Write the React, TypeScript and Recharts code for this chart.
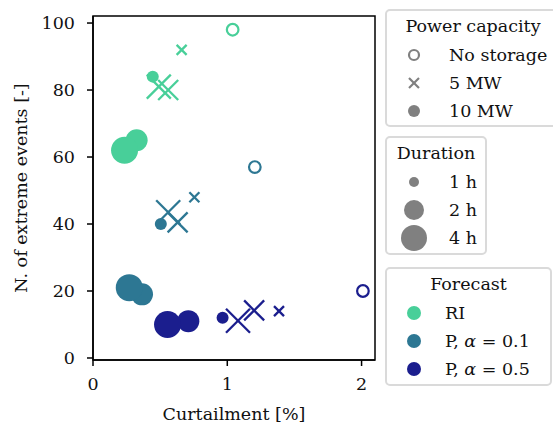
import React from 'react'
import {
  ScatterChart,
  Scatter,
  XAxis,
  YAxis,
  ReferenceArea,
  Label,
} from 'recharts'

// storage cases, same order for every forecast
const powerCapacity = ['none', '5 MW', '10 MW', '5 MW', '10 MW', '5 MW', '10 MW']
const durationHours = [0, 1, 1, 2, 2, 4, 4]

const curtailmentRI = [1.04, 0.66, 0.445, 0.56, 0.325, 0.49, 0.235]
const eventsRI = [98, 92, 84, 80, 65, 81, 62]

const curtailmentP01 = [1.205, 0.755, 0.505, 0.63, 0.365, 0.56, 0.27]
const eventsP01 = [57, 48, 40, 40.5, 19, 43.5, 21]

const curtailmentP05 = [2.01, 1.385, 0.965, 1.2, 0.71, 1.08, 0.555]
const eventsP05 = [20, 14, 12, 14.2, 11, 11.1, 10]

const xTicks = [0, 1, 2]
const yTicks = [0, 20, 40, 60, 80, 100]

const forecasts = [
  { name: 'RI', color: '#48cf99', x: curtailmentRI, y: eventsRI },
  { name: 'P, α = 0.1', color: '#2d7793', x: curtailmentP01, y: eventsP01 },
  { name: 'P, α = 0.5', color: '#1b1e8e', x: curtailmentP05, y: eventsP05 },
]

const FONT = '"DejaVu Serif", serif'
const FS = 17.5
const GREY = '#808080'

const crossHalf: Record<number, number> = { 1: 5, 2: 10, 4: 12 }
const dotRadius: Record<number, number> = { 1: 6, 2: 11, 4: 13.5 }

function Marker(props: any) {
  const { cx, cy, payload, fill } = props
  if (cx == null || cy == null) return null
  const color = fill
  if (payload.cap === 'none') {
    return <circle cx={cx} cy={cy} r={5.8} fill="none" stroke={color} strokeWidth={2.2} />
  }
  if (payload.cap === '5 MW') {
    const h = crossHalf[payload.hours]
    return (
      <g stroke={color} strokeWidth={2.3}>
        <line x1={cx - h} y1={cy - h} x2={cx + h} y2={cy + h} />
        <line x1={cx - h} y1={cy + h} x2={cx + h} y2={cy - h} />
      </g>
    )
  }
  return <circle cx={cx} cy={cy} r={dotRadius[payload.hours]} fill={color} />
}

const boxStyle: React.CSSProperties = {
  position: 'absolute',
  left: 385,
  border: '2px solid #dadada',
  borderRadius: 5,
  background: '#fff',
  boxSizing: 'border-box',
  fontFamily: FONT,
  fontSize: FS,
  color: '#111',
}

function LegendBox({ top, width, height, title, rows }: any) {
  return (
    <div style={{ ...boxStyle, top, width, height }}>
      <div style={{ position: 'absolute', left: 0, right: 0, top: 3, textAlign: 'center', lineHeight: '24px' }}>
        {title}
      </div>
      {rows.map((r: any, i: number) => (
        <div key={i} style={{ position: 'absolute', left: 0, top: 32 + i * 28, height: 24, width: '100%' }}>
          <svg width={56} height={30} style={{ position: 'absolute', left: 0, top: -3 }}>
            {r.icon}
          </svg>
          <span style={{ position: 'absolute', left: r.textLeft, top: 0, lineHeight: '24px', whiteSpace: 'nowrap' }}>
            {r.label}
          </span>
        </div>
      ))}
    </div>
  )
}

export default function App() {
  const series = forecasts.map((f) => ({
    ...f,
    data: f.x.map((x, i) => ({ x, y: f.y[i], cap: powerCapacity[i], hours: durationHours[i] })),
  }))

  const tickStyle = { fill: '#111', fontSize: FS, fontFamily: FONT }

  return (
    <div style={{ position: 'absolute', left: 0, top: 0, width: 553, height: 425, background: '#fff', overflow: 'hidden' }}>
      <ScatterChart width={553} height={425} margin={{ top: 16, right: 178, bottom: 0, left: 0 }}>
        <XAxis
          type="number"
          dataKey="x"
          domain={[0, 2.1]}
          ticks={xTicks}
          allowDataOverflow
          height={65}
          tick={tickStyle}
          tickSize={6}
          tickMargin={12}
          axisLine={{ stroke: '#000', strokeWidth: 1.5 }}
          tickLine={{ stroke: '#000', strokeWidth: 1.5 }}
        >
          <Label
            value="Curtailment [%]"
            position="insideBottom"
            offset={5}
            style={{ fill: '#111', fontSize: FS, fontFamily: FONT }}
          />
        </XAxis>
        <YAxis
          type="number"
          dataKey="y"
          domain={[-0.6, 102.1]}
          ticks={yTicks}
          allowDataOverflow
          width={93}
          tick={tickStyle}
          tickSize={6}
          tickMargin={12}
          axisLine={{ stroke: '#000', strokeWidth: 1.5 }}
          tickLine={{ stroke: '#000', strokeWidth: 1.5 }}
        >
          <Label
            value="N. of extreme events [-]"
            angle={-90}
            position="insideLeft"
            offset={21}
            style={{ fill: '#111', fontSize: FS, fontFamily: FONT, textAnchor: 'middle' }}
          />
        </YAxis>
        <ReferenceArea x1={0} x2={2.1} y1={-0.6} y2={102.1} fill="none" stroke="#000" strokeWidth={1.5} />
        {series.map((s) => (
          <Scatter
            key={s.name}
            name={s.name}
            data={s.data}
            fill={s.color}
            shape={<Marker />}
            isAnimationActive={false}
          />
        ))}
      </ScatterChart>

      <LegendBox
        top={9}
        width={176}
        height={118}
        title="Power capacity"
        rows={[
          { label: 'No storage', textLeft: 62, icon: <circle cx={27} cy={15} r={5} fill="none" stroke={GREY} strokeWidth={2.2} /> },
          {
            label: '5 MW',
            textLeft: 62,
            icon: (
              <g stroke={GREY} strokeWidth={2.2}>
                <line x1={22} y1={10} x2={32} y2={20} />
                <line x1={22} y1={20} x2={32} y2={10} />
              </g>
            ),
          },
          { label: '10 MW', textLeft: 62, icon: <circle cx={27} cy={15} r={6} fill={GREY} /> },
        ]}
      />
      <LegendBox
        top={136}
        width={102}
        height={119}
        title="Duration"
        rows={[
          { label: '1 h', textLeft: 62, icon: <circle cx={27} cy={15} r={5} fill={GREY} /> },
          { label: '2 h', textLeft: 62, icon: <circle cx={27} cy={15} r={10} fill={GREY} /> },
          { label: '4 h', textLeft: 62, icon: <circle cx={27} cy={15} r={13} fill={GREY} /> },
        ]}
      />
      <LegendBox
        top={267}
        width={167}
        height={119}
        title="Forecast"
        rows={forecasts.map((f) => ({
          label:
            f.name === 'RI' ? (
              'RI'
            ) : (
              <span>
                {f.name.split('α')[0]}
                <i>α</i>
                {f.name.split('α')[1]}
              </span>
            ),
          textLeft: 58,
          icon: <circle cx={27} cy={15} r={7} fill={f.color} />,
        }))}
      />
    </div>
  )
}
